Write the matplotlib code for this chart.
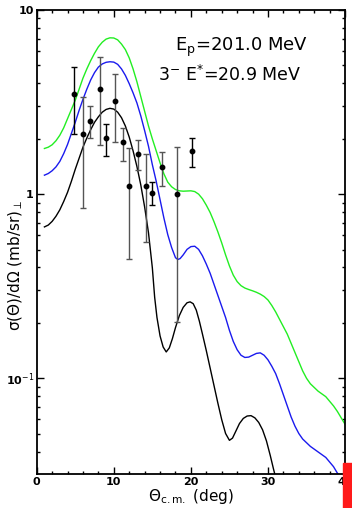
import numpy as np
import matplotlib
matplotlib.use('Agg')
import matplotlib.pyplot as plt
from matplotlib.ticker import FixedLocator, MultipleLocator, FuncFormatter
from matplotlib.patches import Rectangle

# data points (angle in deg, cross section in mb/sr, error bar limits)
pt_theta = [4.83, 5.96, 6.90, 8.16, 9.02, 10.1, 11.18, 11.96, 13.08, 14.16, 15.02, 16.3, 18.26, 20.2]
pt_sigma = [3.52, 2.11, 2.51, 3.72, 2.01, 3.21, 1.91, 1.105, 1.65, 1.105, 1.01, 1.41, 1.00, 1.71]
pt_low = [2.11, 0.843, 2.01, 1.86, 1.61, 1.92, 1.51, 0.442, 1.36, 0.551, 0.871, 1.105, 0.201, 1.41]
pt_high = [4.92, 3.38, 3.01, 5.57, 2.40, 4.49, 2.30, 1.77, 1.96, 1.65, 1.157, 1.70, 1.81, 2.01]
pt_dark = [True, False, False, False, True, False, False, False, False, False, True, False, False, True]

# calculated curves as log10(sigma)
green_theta = [1.0, 1.5, 2.0, 2.5, 3.0, 3.5, 4.0, 4.5, 5.0, 5.5, 6.0, 6.5, 7.0, 7.5, 8.0,
               8.5, 9.0, 9.5, 10.0, 10.5, 11.0, 11.5, 12.0, 12.5, 13.0, 13.5, 14.0, 14.5,
               15.0, 15.5, 16.0, 16.5, 17.0, 17.5, 18.0, 18.5, 19.0, 19.5, 20.0, 20.5,
               21.0, 21.5, 22.0, 22.5, 23.0, 23.5, 24.0, 24.5, 25.0, 25.5, 26.0, 26.5,
               27.0, 27.5, 28.0, 28.5, 29.0, 29.5, 30.0, 30.5, 31.0, 31.5, 32.0, 32.5,
               33.0, 33.5, 34.0, 34.5, 35.0, 35.5, 36.0, 36.5, 37.0, 37.5, 38.0, 38.5,
               39.0, 39.5, 40.0]
green_log = [0.248, 0.255, 0.268, 0.29, 0.32, 0.36, 0.41, 0.46, 0.51, 0.57, 0.63, 0.68,
             0.725, 0.765, 0.80, 0.825, 0.842, 0.849, 0.848, 0.838, 0.815, 0.785, 0.74,
             0.68, 0.61, 0.53, 0.45, 0.37, 0.30, 0.235, 0.17, 0.11, 0.065, 0.04, 0.025,
             0.018, 0.016, 0.017, 0.018, 0.014, 0.0, -0.025, -0.06, -0.10, -0.15, -0.205,
             -0.265, -0.33, -0.39, -0.44, -0.475, -0.497, -0.51, -0.518, -0.525, -0.533,
             -0.543, -0.556, -0.575, -0.605, -0.64, -0.68, -0.72, -0.76, -0.81, -0.86,
             -0.91, -0.96, -1.0, -1.03, -1.05, -1.07, -1.085, -1.10, -1.125, -1.15,
             -1.18, -1.215, -1.25]

blue_theta = [1.0, 1.5, 2.0, 2.5, 3.0, 3.5, 4.0, 4.5, 5.0, 5.5, 6.0, 6.5, 7.0, 7.5, 8.0,
              8.5, 9.0, 9.5, 10.0, 10.5, 11.0, 11.5, 12.0, 12.5, 13.0, 13.5, 14.0, 14.5,
              15.0, 15.5, 16.0, 16.5, 17.0, 17.5, 18.0, 18.3, 18.6, 19.0, 19.5, 20.0,
              20.5, 21.0, 21.5, 22.0, 22.5, 23.0, 23.5, 24.0, 24.5, 25.0, 25.5, 26.0,
              26.5, 27.0, 27.5, 28.0, 28.5, 29.0, 29.5, 30.0, 30.5, 31.0, 31.5, 32.0,
              32.5, 33.0, 33.5, 34.0, 34.5, 35.0, 35.5, 36.0, 36.5, 37.0, 37.5, 38.0,
              38.5, 39.0, 39.2]
blue_log = [0.103, 0.112, 0.127, 0.148, 0.178, 0.22, 0.27, 0.33, 0.39, 0.455, 0.515,
            0.57, 0.62, 0.66, 0.69, 0.707, 0.716, 0.719, 0.717, 0.705, 0.68, 0.645, 0.60,
            0.55, 0.495, 0.425, 0.345, 0.26, 0.16, 0.07, -0.03, -0.13, -0.22, -0.29,
            -0.345, -0.355, -0.35, -0.33, -0.30, -0.285, -0.283, -0.30, -0.335, -0.38,
            -0.43, -0.49, -0.55, -0.61, -0.67, -0.74, -0.80, -0.845, -0.875, -0.887,
            -0.885, -0.875, -0.865, -0.862, -0.875, -0.90, -0.935, -0.975, -1.03, -1.09,
            -1.15, -1.21, -1.26, -1.30, -1.33, -1.35, -1.37, -1.385, -1.40, -1.415,
            -1.43, -1.455, -1.48, -1.515, -1.525]

black_theta = [1.0, 1.5, 2.0, 2.5, 3.0, 3.5, 4.0, 4.5, 5.0, 5.5, 6.0, 6.5, 7.0, 7.5, 8.0,
               8.5, 9.0, 9.5, 10.0, 10.5, 11.0, 11.5, 12.0, 12.5, 13.0, 13.5, 14.0, 14.5,
               15.0, 15.3, 15.6, 16.0, 16.4, 16.8, 17.2, 17.6, 18.0, 18.5, 19.0, 19.5,
               19.9, 20.3, 20.7, 21.1, 21.5, 22.0, 22.5, 23.0, 23.5, 24.0, 24.5, 25.0,
               25.4, 25.8, 26.3, 26.8, 27.3, 27.8, 28.3, 28.8, 29.3, 29.8, 30.3, 30.7, 31.0]
black_log = [-0.178, -0.168, -0.148, -0.12, -0.085, -0.04, 0.01, 0.07, 0.135, 0.195,
             0.255, 0.305, 0.35, 0.39, 0.42, 0.445, 0.46, 0.466, 0.462, 0.445, 0.415,
             0.37, 0.31, 0.235, 0.15, 0.05, -0.07, -0.21, -0.40, -0.56, -0.67, -0.77,
             -0.83, -0.857, -0.835, -0.785, -0.725, -0.66, -0.615, -0.59, -0.585, -0.595,
             -0.63, -0.69, -0.76, -0.85, -0.945, -1.04, -1.135, -1.225, -1.30, -1.337,
             -1.325, -1.29, -1.246, -1.218, -1.205, -1.203, -1.215, -1.24, -1.28, -1.34,
             -1.42, -1.49, -1.54]

fig = plt.figure(figsize=(3.52, 5.08), dpi=100)
ax = fig.add_axes([0.1043, 0.0669, 0.876, 0.9134])

ax.plot(green_theta, 10 ** np.array(green_log), color='#22ee22', lw=1.0)
ax.plot(blue_theta, 10 ** np.array(blue_log), color='#1a1aee', lw=1.0)
ax.plot(black_theta, 10 ** np.array(black_log), color='black', lw=1.0)

for x, y, lo, hi, dark in zip(pt_theta, pt_sigma, pt_low, pt_high, pt_dark):
    c = 'black' if dark else '#555555'
    ax.errorbar([x], [y], yerr=[[y - lo], [hi - y]], fmt='none', ecolor=c,
                elinewidth=1.0, capsize=2.5, capthick=1.0)
ax.plot(pt_theta, pt_sigma, 'o', color='black', ms=3.2, zorder=5)

ax.set_yscale('log')
ax.set_xlim(0, 40)
ax.set_ylim(0.0302, 10)

ax.xaxis.set_major_locator(MultipleLocator(10))
ax.xaxis.set_minor_locator(MultipleLocator(2))
ax.yaxis.set_major_locator(FixedLocator([0.1, 1, 10]))
ax.yaxis.set_minor_locator(FixedLocator([k * 10.0 ** e for e in (-2, -1, 0) for k in range(2, 10)]))
ylabels = {0.1: r'10$^{-1}$', 1: '1', 10: '10'}
ax.yaxis.set_major_formatter(FuncFormatter(lambda v, p: ylabels.get(round(v, 3), '')))
ax.yaxis.set_minor_formatter(FuncFormatter(lambda v, p: ''))

ax.tick_params(which='both', direction='in', top=True, right=True, width=1.0)
ax.tick_params(which='major', length=5, labelsize=8, pad=2)
ax.tick_params(which='minor', length=2.5)
for lab in ax.get_xticklabels() + ax.get_yticklabels():
    lab.set_fontweight('bold')
for s in ax.spines.values():
    s.set_linewidth(1.3)

ax.set_xlabel(r'$\Theta_{\rm c.m.}$ (deg)', fontsize=11, labelpad=0)
ax.set_ylabel('σ(Θ)/dΩ (mb/sr)$_{\\perp}$', fontsize=11)
ax.yaxis.set_label_coords(-0.038, 0.45)

ax.text(0.449, 0.92, r'E$_{\rm p}$=201.0 MeV', transform=ax.transAxes,
        fontsize=13, va='center', ha='left')
ax.text(0.394, 0.86, r'3$^{-}$ E$^{*}$=20.9 MeV', transform=ax.transAxes,
        fontsize=12.5, va='center', ha='left')

fig.patches.append(Rectangle((343 / 352, 0), 9 / 352, 45 / 508, transform=fig.transFigure,
                             color='#ff1a1a', zorder=10))

fig.savefig('out.png', dpi=100)
